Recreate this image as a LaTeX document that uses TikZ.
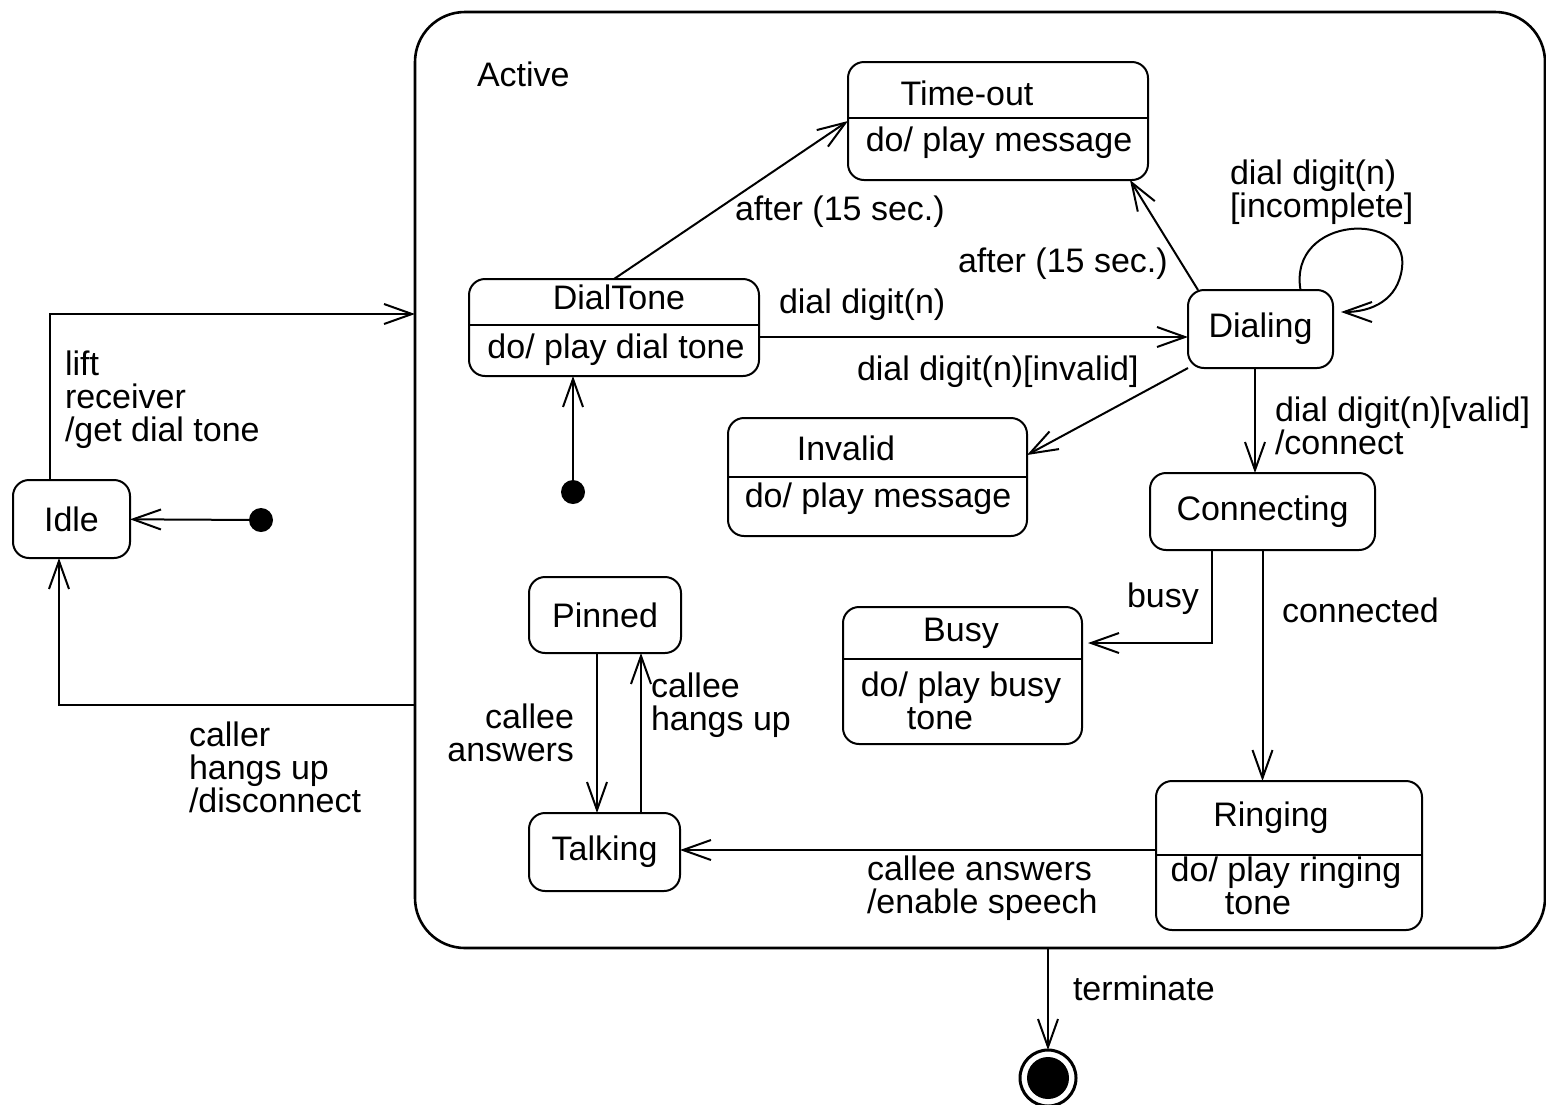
\documentclass[tikz,border=0pt]{standalone}
\usepackage{fontspec}
\setmainfont{Liberation Sans}
\usetikzlibrary{arrows.meta,calc}
\begin{document}
\begin{tikzpicture}[x=0.5pt,y=-0.5pt,
  font=\fontsize{17}{16.5}\selectfont,
  every node/.style={inner sep=0pt, outer sep=0pt},
  stbox/.style={draw, line width=1pt, rounded corners=8pt},
  lbl/.style={anchor=base west, align=left},
  txt/.style={anchor=base},
  arr/.style={line width=1pt, -{Straight Barb[length=14pt,width=10pt,line width=1pt]}},
  startdot/.style={circle, fill=black, minimum size=12pt},
]
\useasboundingbox (0,0) rectangle (1546,1104);

% composite state
\node[draw, line width=1.3pt, rounded corners=25pt, minimum width=565pt, minimum height=468pt] (active) at (980,480) {};
\node[lbl] (activelbl) at (477,86) {Active};

% simple states
\node[stbox, minimum width=58.5pt, minimum height=39pt] (idle) at (71.5,519) {Idle};
\node[stbox, minimum width=72.5pt, minimum height=39pt] (dialing) at (1260.5,329) {Dialing};
\node[stbox, minimum width=112.5pt, minimum height=38.5pt] (connecting) at (1262.5,511.5) {Connecting};
\node[stbox, minimum width=76pt, minimum height=38pt] (pinned) at (605,615) {Pinned};
\node[stbox, minimum width=75.5pt, minimum height=39pt] (talking) at (604.5,852) {Talking};

% states with an activity compartment
\node[stbox, minimum width=150pt, minimum height=59pt] (timeout) at (998,121) {};
\draw[line width=1pt] (timeout.west |- 0,118) -- (timeout.east |- 0,118);
\node[txt] (timeoutname) at (967,105) {Time-out};
\node[txt] (timeoutdo) at (999,151) {do/ play message};

\node[stbox, minimum width=145pt, minimum height=48.5pt] (dialtone) at (614,327.5) {};
\draw[line width=1pt] (dialtone.west |- 0,325) -- (dialtone.east |- 0,325);
\node[txt] (dialtonename) at (619,309) {DialTone};
\node[txt] (dialtonedo) at (616,358) {do/ play dial tone};

\node[stbox, minimum width=149.5pt, minimum height=59pt] (invalid) at (877.5,477) {};
\draw[line width=1pt] (invalid.west |- 0,477) -- (invalid.east |- 0,477);
\node[txt] (invalidname) at (846,460) {Invalid};
\node[txt] (invaliddo) at (878,507) {do/ play message};

\node[stbox, minimum width=119.5pt, minimum height=68.5pt] (busy) at (962.5,675.5) {};
\draw[line width=1pt] (busy.west |- 0,659) -- (busy.east |- 0,659);
\node[txt] (busyname) at (961,641) {Busy};
\node[txt] (busydo) at (961,696) {do/ play busy};
\node[txt] (busydotwo) at (940,729) {tone};

\node[stbox, minimum width=133pt, minimum height=74.5pt] (ringing) at (1289,855.5) {};
\draw[line width=1pt] (ringing.west |- 0,855) -- (ringing.east |- 0,855);
\node[txt] (ringingname) at (1271,826) {Ringing};
\node[txt] (ringingdo) at (1286,881) {do/ play ringing};
\node[txt] (ringingdotwo) at (1258,914) {tone};

% pseudo states
\node[startdot] (init1) at (261,520) {};
\node[startdot] (init2) at (573,492) {};
\node[circle, draw, line width=1.5pt, minimum size=28pt] (fin) at (1048,1078) {};
\node[circle, fill=black, minimum size=21pt] (finin) at (fin) {};

% transitions
\draw[arr] (init1) -- (idle);
\draw[arr] ([xshift=-10.75pt]idle.north) |- (active.west |- 0,314);
\node[lbl] (liftlbl) at (65,441) {lift\\receiver\\/get dial tone};
\draw[arr] (active.west |- 0,705) -| ([xshift=-6.25pt]idle.south);
\node[lbl] (hanglbl) at (189,812) {caller\\hangs up\\/disconnect};

\draw[arr] (init2) -- (init2 |- dialtone.south);
\draw[arr] (dialtone.north) -- (timeout.west);
\node[lbl] (after1) at (735,220) {after (15 sec.)};
\draw[arr] ([xshift=5pt]dialing.north west) -- ([xshift=-9pt]timeout.south east);
\node[lbl] (after2) at (958,272) {after (15 sec.)};
\draw[arr] (dialtone.east |- 0,337) -- (dialing.west |- 0,337);
\node[lbl] (digitlbl) at (779,313) {dial digit(n)};
\draw[arr] (dialing.south west) -- ([yshift=11pt]invalid.east);
\node[lbl] (invalidlbl) at (857,380) {dial digit(n)[invalid]};

\coordinate (loopa) at ([xshift=20pt]dialing.north);
\coordinate (loopb) at ([xshift=4pt,yshift=8.5pt]dialing.east);
\draw[arr] (loopa) .. controls (1288,215) and (1410,210) .. (1402,268)
  .. controls (1398,300) and (1372,312) .. (loopb);
\node[lbl] (looplbl) at (1230,217) {dial digit(n)\\{}[incomplete]};

\draw[arr] ([xshift=-2.75pt]dialing.south) -- ([xshift=-2.75pt]dialing.south |- connecting.north);
\node[lbl] (validlbl) at (1275,454) {dial digit(n)[valid]\\/connect};

\draw[arr] ([xshift=-25.25pt]connecting.south) |- ([xshift=3pt]busy.east |- 0,643);
\node[lbl] (busylbl) at (1127,607) {busy};
\draw[arr] (connecting.south) -- (connecting.south |- ringing.north);
\node[lbl] (connlbl) at (1282,622) {connected};

\draw[arr] (ringing.west |- 0,850) -- (talking.east |- 0,850);
\node[lbl] (speechlbl) at (867,913) {callee answers\\/enable speech};

\draw[arr] ([xshift=-4pt]pinned.south) -- ([xshift=-4pt]pinned.south |- talking.north);
\node[anchor=base east, align=right] (answlbl) at (574,761) {callee\\answers};
\draw[arr] ([xshift=18.25pt]talking.north) -- ([xshift=18.25pt]talking.north |- pinned.south);
\node[lbl] (hangslbl) at (651,730) {callee\\hangs up};

\draw[arr] (active.south -| fin) -- (fin.north);
\node[lbl] (termlbl) at (1073,1000) {terminate};
\end{tikzpicture}
\end{document}
